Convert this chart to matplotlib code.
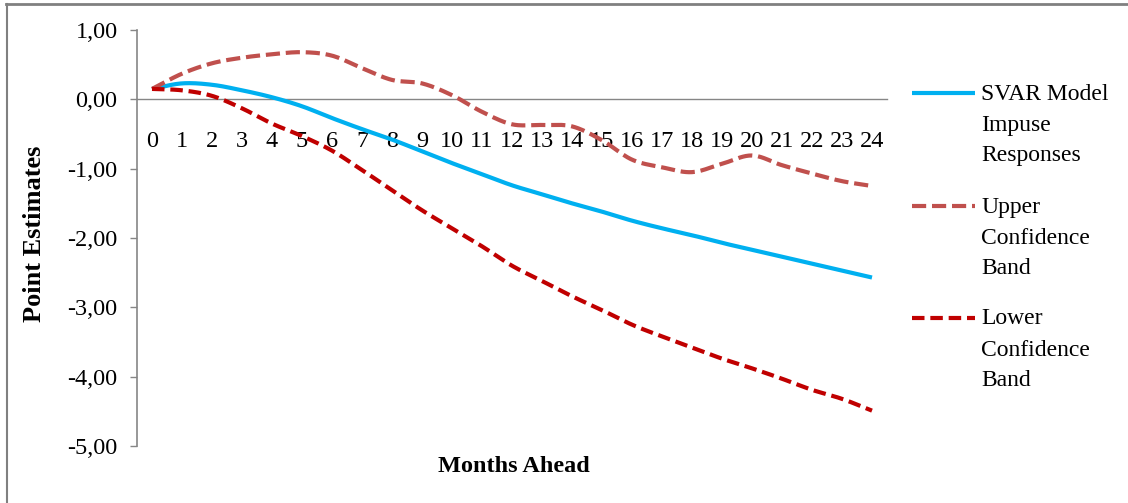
import numpy as np
import matplotlib
matplotlib.use("Agg")
import matplotlib.pyplot as plt
from matplotlib.lines import Line2D

months = list(range(25))
month_labels = [str(m) for m in months]
svar = [0.15, 0.23, 0.21, 0.13, 0.03, -0.10, -0.27, -0.43, -0.58, -0.75, -0.92,
        -1.08, -1.24, -1.37, -1.50, -1.62, -1.75, -1.86, -1.96, -2.07, -2.17,
        -2.27, -2.37, -2.47, -2.57]
upper = [0.15, 0.37, 0.52, 0.60, 0.65, 0.68, 0.63, 0.45, 0.28, 0.23, 0.06,
         -0.18, -0.36, -0.37, -0.39, -0.59, -0.87, -0.98, -1.05, -0.93, -0.81,
         -0.95, -1.07, -1.18, -1.25]
lower = [0.15, 0.13, 0.05, -0.13, -0.35, -0.53, -0.74, -1.02, -1.31, -1.60,
         -1.86, -2.12, -2.40, -2.62, -2.84, -3.04, -3.25, -3.42, -3.58, -3.74,
         -3.88, -4.03, -4.19, -4.32, -4.49]
yticks = [-5, -4, -3, -2, -1, 0, 1]
ytick_labels = ["-5,00", "-4,00", "-3,00", "-2,00", "-1,00", "0,00", "1,00"]
labels = ["SVAR Model\nImpuse\nResponses", "Upper\nConfidence\nBand",
          "Lower\nConfidence\nBand"]
colors = ["#00B0F0", "#C0504D", "#C00000"]


def smooth(x, y, n=20):
    # Catmull-Rom rendering through the data points (Excel-like smoothed line)
    x = np.asarray(x, float)
    y = np.asarray(y, float)
    P = np.column_stack([x, y])
    P = np.vstack([P[0] - (P[1] - P[0]), P, P[-1] + (P[-1] - P[-2])])
    out = []
    t = np.linspace(0, 1, n, endpoint=False)[:, None]
    for i in range(1, len(P) - 2):
        p0, p1, p2, p3 = P[i - 1], P[i], P[i + 1], P[i + 2]
        seg = 0.5 * ((2 * p1) + (-p0 + p2) * t + (2 * p0 - 5 * p1 + 4 * p2 - p3) * t ** 2
                     + (-p0 + 3 * p1 - 3 * p2 + p3) * t ** 3)
        out.append(seg)
    out.append(P[-2][None, :])
    out = np.vstack(out)
    return out[:, 0], out[:, 1]


plt.rcParams['font.family'] = ['Liberation Serif', 'DejaVu Serif']

fig = plt.figure(figsize=(11.28, 5.03), dpi=100)
ax = fig.add_axes([137 / 1128, 1 - 446 / 503, 750 / 1128, 416 / 503])

series = [svar, upper, lower]
styles = [dict(ls='-'), dict(ls=(0, (3.4, 1.4))), dict(ls=(0, (3.0, 1.4)))]
for s, c, st in zip(series, colors, styles):
    xs, ys = smooth(months, s)
    ax.plot(xs, ys, color=c, lw=3.0, solid_capstyle='butt', dash_capstyle='butt',
            zorder=3, **st)

ax.spines['bottom'].set_position(('data', 0))
ax.spines['bottom'].set_color('#868686')
ax.spines['bottom'].set_linewidth(1.0)
for sp in ['top', 'right']:
    ax.spines[sp].set_visible(False)
ax.spines['left'].set_color('#868686')
ax.spines['left'].set_linewidth(1.2)

ax.set_xlim(-0.5, 24.5)
ax.set_ylim(-5, 1)
ax.set_yticks(yticks)
ax.set_yticklabels(ytick_labels)
ax.set_xticks(months)
ax.set_xticklabels(month_labels)
ax.tick_params(axis='x', length=0, pad=23, labelsize=17.5)
ax.tick_params(axis='y', direction='out', length=5, width=1, color='#868686', pad=9,
               labelsize=17.5)

fig.text(35 / 1128, 1 - 234 / 503, "Point Estimates", rotation=90, fontsize=19,
         fontweight='bold', ha='center', va='center')
fig.text(514 / 1128, 1 - 466 / 503, "Months Ahead", fontsize=17.5, fontweight='bold',
         ha='center', va='center')

# legend
leg_y = [93, 206, 318]
for lab, c, st, yy in zip(labels, colors, styles, leg_y):
    fig.add_artist(Line2D([912 / 1128, 975 / 1128], [1 - yy / 503, 1 - yy / 503],
                          color=c, lw=3.0, solid_capstyle='butt', dash_capstyle='butt', **st))
    for k, line in enumerate(lab.split("\n")):
        fig.text(981 / 1128, 1 - (yy + 31 * k + 1) / 503, line, fontsize=17,
                 ha='left', va='center')

# outer frame (top and left edges)
fig.add_artist(Line2D([6 / 1128, 1], [1 - 4 / 503, 1 - 4 / 503], color='#808080', lw=2))
fig.add_artist(Line2D([7 / 1128, 7 / 1128], [0, 1 - 4 / 503], color='#808080', lw=1.5))

fig.savefig("out.png", dpi=100)
